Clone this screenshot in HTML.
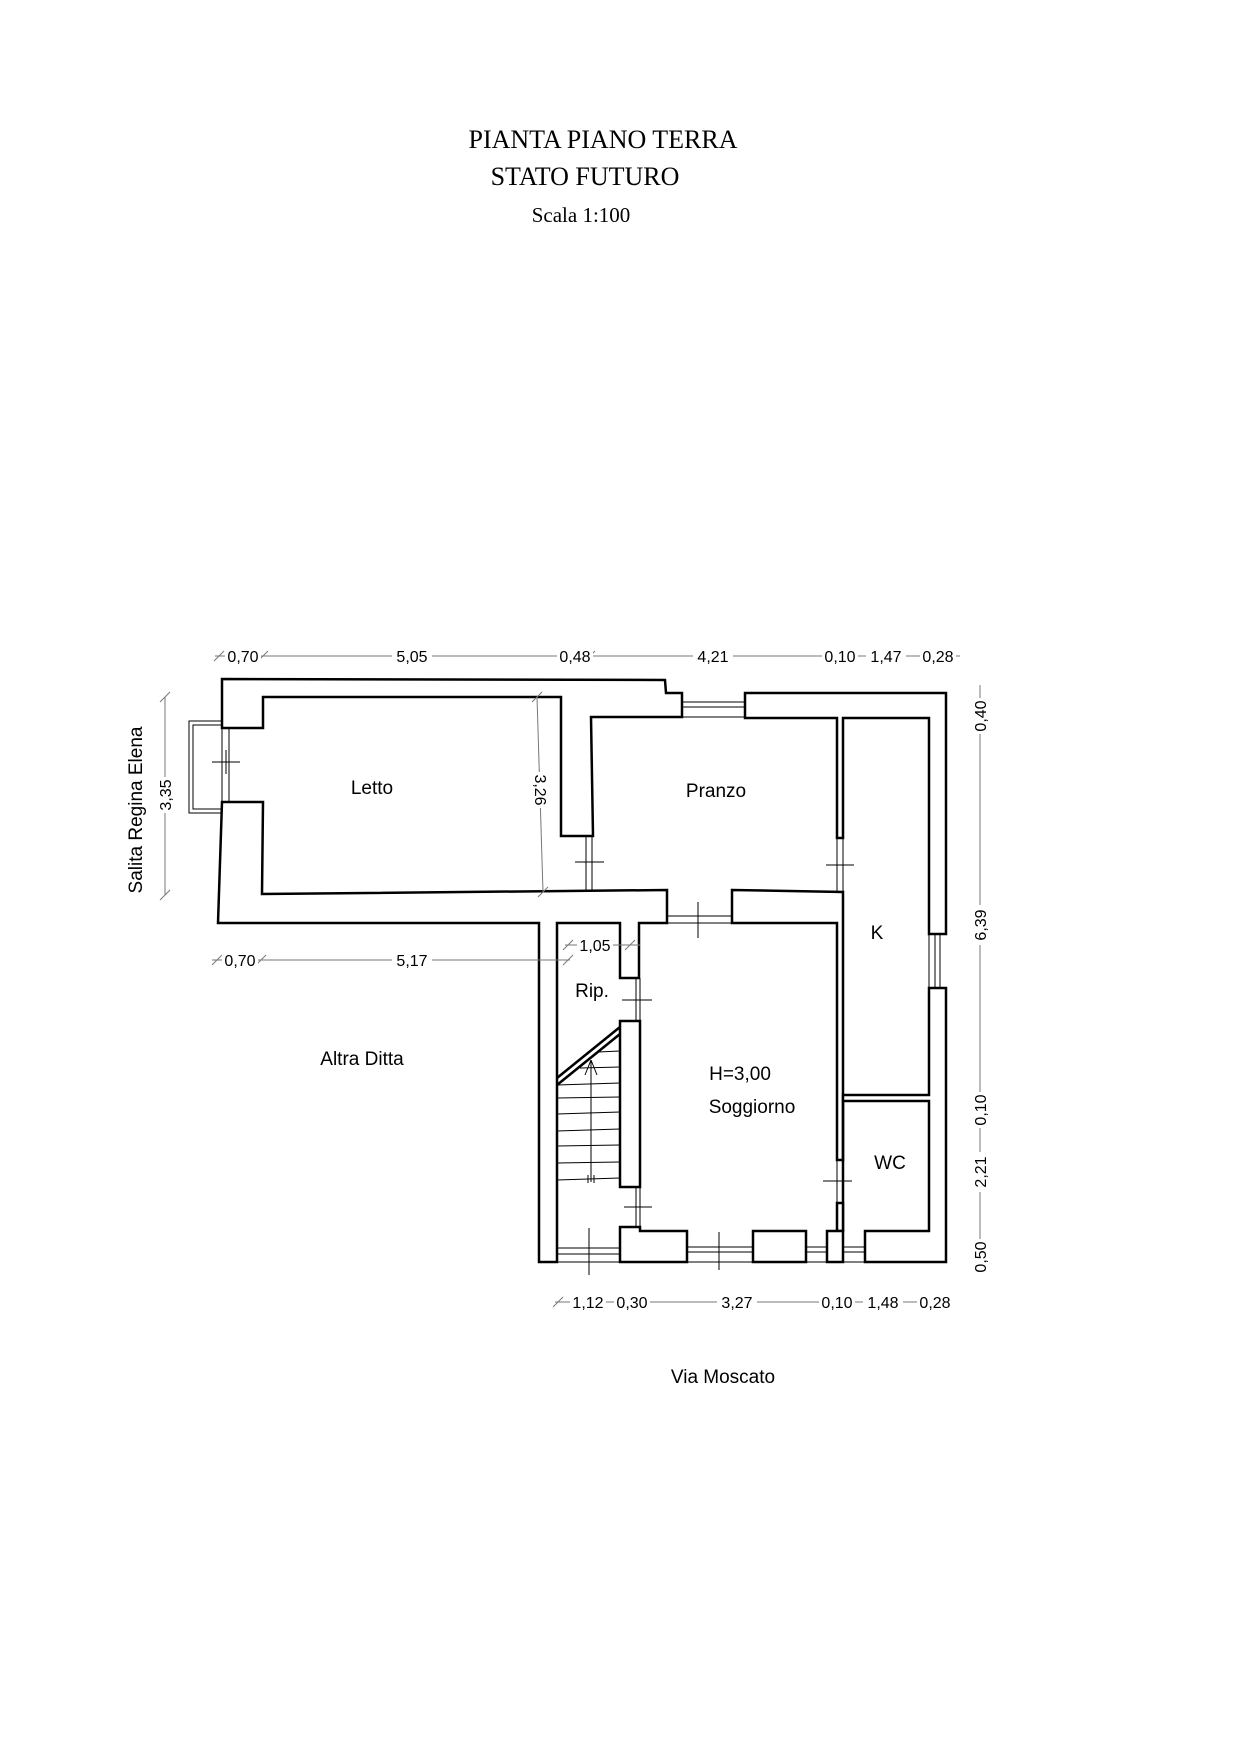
<!DOCTYPE html>
<html><head><meta charset="utf-8"><style>
html,body{margin:0;padding:0;background:#fff}
svg{display:block}
.t{font-family:"Liberation Serif",serif;fill:#000}
.s{font-family:"Liberation Sans",sans-serif;fill:#000}
.w{fill:#fff;stroke:#000;stroke-width:2.5;stroke-linejoin:miter}
.d{stroke:#777;stroke-width:1;fill:none}
.k{stroke:#000;stroke-width:1;fill:none}
</style></head><body>
<svg width="1240" height="1754" viewBox="0 0 1240 1754" xmlns="http://www.w3.org/2000/svg">
<rect width="1240" height="1754" fill="#fff"/>
<text class="t" x="603" y="148" font-size="26" text-anchor="middle">PIANTA PIANO TERRA</text>
<text class="t" x="585" y="185" font-size="26" text-anchor="middle">STATO FUTURO</text>
<text class="t" x="581" y="222" font-size="21" text-anchor="middle">Scala 1:100</text>

<!-- balcony -->
<rect x="189" y="721" width="33" height="92" class="k"/>
<rect x="193" y="725" width="29" height="84" class="k"/>
<line x1="222" y1="728" x2="222" y2="802" class="k"/>
<line x1="229" y1="728" x2="229" y2="802" class="k"/>
<line x1="212" y1="762" x2="240" y2="762" class="k"/>
<line x1="226" y1="750" x2="226" y2="774" class="k"/>

<!-- walls -->
<path class="w" d="M222,728 L222,679 L665,680 L666,693 L682,693 L682,717 L591,717 L593,836 L561,836 L561,697 L263,697 L263,728 Z"/>
<path class="w" d="M745,693 L946,693 L946,934 L929,934 L929,718 L843,718 L843,838 L837,838 L837,718 L745,718 Z"/>
<path class="w" d="M222,802 L263,802 L262,894 L667,890 L667,923 L639,923 L639,978 L620,978 L620,923 L557,923 L557,1262 L539,1262 L539,923 L218,923 Z"/>
<path class="w" d="M732,890 L843,892 L843,1160 L837,1160 L837,923 L732,923 Z"/>
<path class="w" d="M946,988 L946,1262 L865,1262 L865,1231 L929,1231 L929,1101 L843,1101 L843,1095 L929,1095 L929,988 Z"/>
<line x1="843" y1="1101" x2="843" y2="1231" stroke="#000" stroke-width="2.5"/>
<rect class="w" x="837" y="1203" width="6" height="28"/>
<rect class="w" x="827" y="1231" width="16" height="31"/>
<rect class="w" x="753" y="1231" width="53" height="31"/>
<path class="w" d="M620,1227 L640,1227 L640,1231 L687,1231 L687,1262 L620,1262 Z"/>
<rect class="w" x="620" y="1021" width="20" height="166"/>

<!-- windows/doors thin -->
<line x1="682" y1="702" x2="745" y2="702" class="k"/>
<line x1="682" y1="707" x2="745" y2="707" class="k"/>
<line x1="682" y1="717" x2="745" y2="717" class="k"/>
<line x1="586" y1="836" x2="586" y2="890" class="k"/>
<line x1="592" y1="836" x2="592" y2="890" class="k"/>
<line x1="575" y1="862" x2="604" y2="862" class="k"/>
<line x1="667" y1="916" x2="732" y2="916" class="k"/>
<line x1="667" y1="923" x2="732" y2="923" class="k"/>
<line x1="698" y1="902" x2="698" y2="938" class="k"/>
<line x1="837" y1="838" x2="837" y2="892" class="k"/>
<line x1="843" y1="838" x2="843" y2="892" class="k"/>
<line x1="826" y1="865" x2="854" y2="865" class="k"/>
<line x1="929" y1="934" x2="929" y2="988" class="k"/>
<line x1="935" y1="934" x2="935" y2="988" class="k"/>
<line x1="940" y1="934" x2="940" y2="988" class="k"/>
<line x1="640" y1="978" x2="640" y2="1021" class="k"/>
<line x1="636" y1="978" x2="636" y2="1021" class="k"/>
<line x1="622" y1="1000" x2="652" y2="1000" class="k"/>
<line x1="640" y1="1187" x2="640" y2="1227" class="k"/>
<line x1="636" y1="1187" x2="636" y2="1227" class="k"/>
<line x1="624" y1="1207" x2="652" y2="1207" class="k"/>
<line x1="837" y1="1160" x2="837" y2="1203" class="k"/>
<line x1="843" y1="1160" x2="843" y2="1203" class="k"/>
<line x1="823" y1="1181" x2="852" y2="1181" class="k"/>
<line x1="557" y1="1248" x2="620" y2="1248" class="k"/>
<line x1="557" y1="1254" x2="620" y2="1254" class="k"/>
<line x1="557" y1="1262" x2="620" y2="1262" class="k"/>
<line x1="589" y1="1228" x2="589" y2="1275" class="k"/>
<line x1="687" y1="1247" x2="753" y2="1247" class="k"/>
<line x1="687" y1="1252" x2="753" y2="1252" class="k"/>
<line x1="687" y1="1262" x2="753" y2="1262" class="k"/>
<line x1="719" y1="1232" x2="719" y2="1270" class="k"/>
<line x1="806" y1="1247" x2="827" y2="1247" class="k"/>
<line x1="806" y1="1252" x2="827" y2="1252" class="k"/>
<line x1="806" y1="1262" x2="827" y2="1262" class="k"/>
<line x1="843" y1="1247" x2="865" y2="1247" class="k"/>
<line x1="843" y1="1252" x2="865" y2="1252" class="k"/>
<line x1="843" y1="1262" x2="865" y2="1262" class="k"/>

<!-- stairs -->
<line x1="557" y1="1078" x2="620" y2="1027" stroke="#000" stroke-width="2.5"/>
<line x1="557" y1="1085" x2="620" y2="1034" stroke="#000" stroke-width="2.5"/>
<g class="k">
<line x1="598" y1="1052" x2="620" y2="1051"/>
<line x1="580" y1="1068" x2="620" y2="1067"/>
<line x1="557" y1="1085" x2="620" y2="1083"/>
<line x1="557" y1="1098" x2="620" y2="1097"/>
<line x1="557" y1="1114" x2="620" y2="1112"/>
<line x1="557" y1="1131" x2="620" y2="1129"/>
<line x1="557" y1="1146" x2="620" y2="1145"/>
<line x1="557" y1="1163" x2="620" y2="1162"/>
<line x1="557" y1="1180" x2="620" y2="1178"/>
<line x1="591" y1="1182" x2="591" y2="1060"/>
<line x1="591" y1="1060" x2="585" y2="1075"/>
<line x1="591" y1="1060" x2="597" y2="1075"/>
<line x1="588" y1="1175" x2="588" y2="1183"/>
<line x1="594" y1="1175" x2="594" y2="1183"/>
</g>

<!-- dimension lines -->
<g class="d">
<line x1="215" y1="656" x2="960" y2="656"/>
<line x1="214" y1="661" x2="224" y2="651"/><line x1="258" y1="661" x2="268" y2="651"/>
<line x1="558" y1="661" x2="568" y2="651"/><line x1="585" y1="661" x2="595" y2="651"/>
<line x1="833" y1="661" x2="843" y2="651"/><line x1="838" y1="661" x2="848" y2="651"/>
<line x1="928" y1="661" x2="938" y2="651"/>
<line x1="212" y1="960" x2="570" y2="960"/>
<line x1="212" y1="965" x2="222" y2="955"/><line x1="256" y1="965" x2="266" y2="955"/>
<line x1="563" y1="965" x2="573" y2="955"/>
<line x1="555" y1="1302" x2="945" y2="1302"/>
<line x1="553" y1="1307" x2="563" y2="1297"/>
<line x1="980" y1="685" x2="980" y2="1270"/>
<line x1="975" y1="710" x2="985" y2="700"/><line x1="975" y1="1115" x2="985" y2="1105"/>
<line x1="975" y1="1262" x2="985" y2="1252"/>
<line x1="165" y1="697" x2="165" y2="895"/>
<line x1="160" y1="702" x2="170" y2="692"/><line x1="160" y1="900" x2="170" y2="890"/>
<line x1="537" y1="697" x2="543" y2="892"/>
<line x1="532" y1="702" x2="542" y2="692"/><line x1="538" y1="897" x2="548" y2="887"/>
<line x1="565" y1="945" x2="640" y2="945"/>
<line x1="563" y1="950" x2="573" y2="940"/><line x1="625" y1="950" x2="635" y2="940"/>
</g>

<g class="s" font-size="16">
<rect x="225" y="646" width="36" height="18" fill="#fff"/><text x="243" y="662" text-anchor="middle">0,70</text>
<rect x="392" y="646" width="40" height="18" fill="#fff"/><text x="412" y="662" text-anchor="middle">5,05</text>
<rect x="557" y="646" width="36" height="18" fill="#fff"/><text x="575" y="662" text-anchor="middle">0,48</text>
<rect x="693" y="646" width="40" height="18" fill="#fff"/><text x="713" y="662" text-anchor="middle">4,21</text>
<rect x="822" y="646" width="36" height="18" fill="#fff"/><text x="840" y="662" text-anchor="middle">0,10</text>
<rect x="866" y="646" width="40" height="18" fill="#fff"/><text x="886" y="662" text-anchor="middle">1,47</text>
<rect x="920" y="646" width="36" height="18" fill="#fff"/><text x="938" y="662" text-anchor="middle">0,28</text>
<rect x="222" y="950" width="36" height="18" fill="#fff"/><text x="240" y="966" text-anchor="middle">0,70</text>
<rect x="392" y="950" width="40" height="18" fill="#fff"/><text x="412" y="966" text-anchor="middle">5,17</text>
<rect x="577" y="935" width="36" height="18" fill="#fff"/><text x="595" y="951" text-anchor="middle">1,05</text>
<rect x="570" y="1292" width="36" height="18" fill="#fff"/><text x="588" y="1308" text-anchor="middle">1,12</text>
<rect x="614" y="1292" width="36" height="18" fill="#fff"/><text x="632" y="1308" text-anchor="middle">0,30</text>
<rect x="717" y="1292" width="40" height="18" fill="#fff"/><text x="737" y="1308" text-anchor="middle">3,27</text>
<rect x="819" y="1292" width="36" height="18" fill="#fff"/><text x="837" y="1308" text-anchor="middle">0,10</text>
<rect x="863" y="1292" width="40" height="18" fill="#fff"/><text x="883" y="1308" text-anchor="middle">1,48</text>
<rect x="917" y="1292" width="36" height="18" fill="#fff"/><text x="935" y="1308" text-anchor="middle">0,28</text>
<g transform="translate(980,716) rotate(-90)"><rect x="-18" y="-10" width="36" height="18" fill="#fff"/><text x="0" y="6" text-anchor="middle">0,40</text></g>
<g transform="translate(980,925) rotate(-90)"><rect x="-20" y="-10" width="40" height="18" fill="#fff"/><text x="0" y="6" text-anchor="middle">6,39</text></g>
<g transform="translate(980,1110) rotate(-90)"><rect x="-18" y="-10" width="36" height="18" fill="#fff"/><text x="0" y="6" text-anchor="middle">0,10</text></g>
<g transform="translate(980,1172) rotate(-90)"><rect x="-20" y="-10" width="40" height="18" fill="#fff"/><text x="0" y="6" text-anchor="middle">2,21</text></g>
<g transform="translate(980,1257) rotate(-90)"><rect x="-18" y="-10" width="36" height="18" fill="#fff"/><text x="0" y="6" text-anchor="middle">0,50</text></g>
<g transform="translate(165,795) rotate(-90)"><rect x="-18" y="-10" width="36" height="18" fill="#fff"/><text x="0" y="6" text-anchor="middle">3,35</text></g>
<g transform="translate(541,790) rotate(90)"><rect x="-18" y="-10" width="36" height="18" fill="#fff"/><text x="0" y="6" text-anchor="middle">3,26</text></g>
</g>

<g class="s" font-size="19" text-anchor="middle">
<text x="372" y="794">Letto</text>
<text x="716" y="797">Pranzo</text>
<text x="877" y="939">K</text>
<text x="592" y="997">Rip.</text>
<text x="740" y="1080">H=3,00</text>
<text x="752" y="1113">Soggiorno</text>
<text x="890" y="1169">WC</text>
<text x="362" y="1065">Altra Ditta</text>
<text x="723" y="1383">Via Moscato</text>
<text transform="translate(142,810) rotate(-90)">Salita Regina Elena</text>
</g>
</svg>
</body></html>
